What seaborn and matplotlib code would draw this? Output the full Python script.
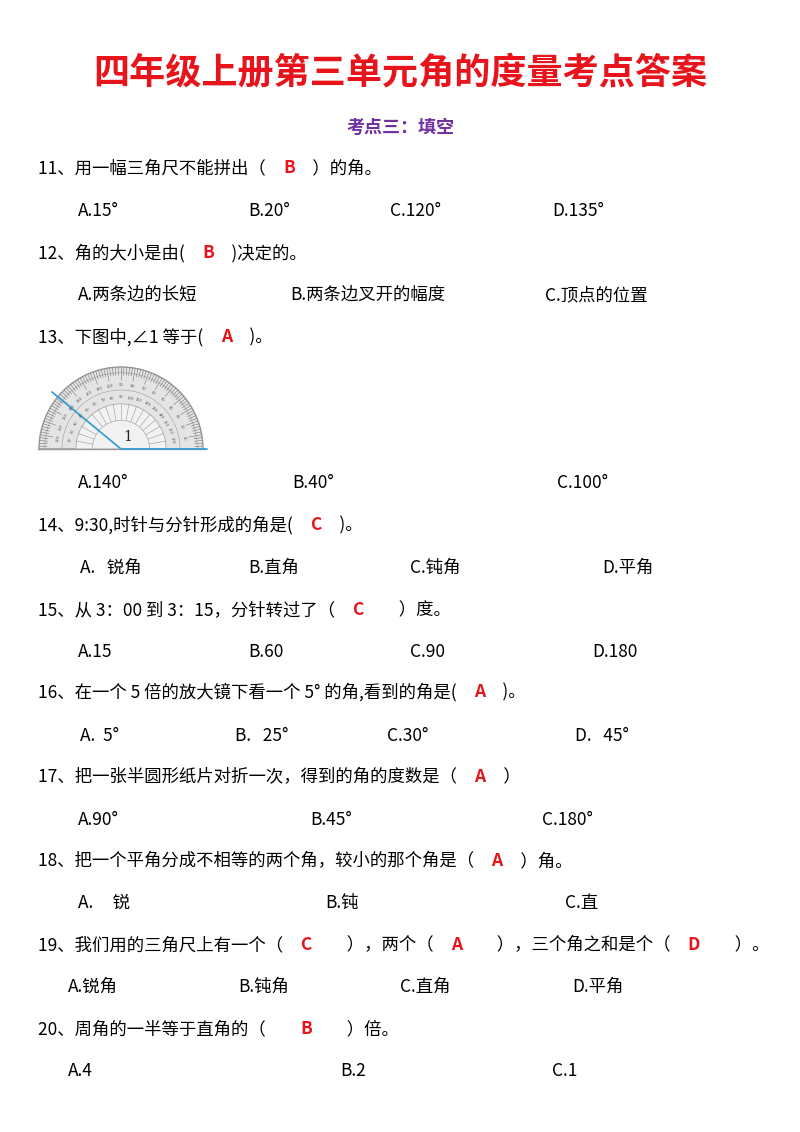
import numpy as np
import matplotlib
matplotlib.use("Agg")
import matplotlib.pyplot as plt
from matplotlib.patches import Wedge, Arc
import seaborn as sns

# ── Content ───────────────────────────────────────────────────────────────────
title = "四年级上册第三单元角的度量考点答案"
subtitle = "考点三：填空"

S = "\u3000"  # full-width space
# each question: list of (text, is_answer)
questions = [
    [("11、用一幅三角尺不能拼出（" + S, 0), ("B", 1), (S + "）的角。", 0)],
    [("12、角的大小是由(" + S, 0), ("B", 1), (S + ")决定的。", 0)],
    [("13、下图中,∠1 等于(" + S, 0), ("A", 1), (S + ")。", 0)],
    [("14、9:30,时针与分针形成的角是(" + S, 0), ("C", 1), (S + ")。", 0)],
    [("15、从 3：00 到 3：15，分针转过了（" + S, 0), ("C", 1), (S + S + "）度。", 0)],
    [("16、在一个 5 倍的放大镜下看一个 5° 的角,看到的角是(" + S, 0), ("A", 1), (S + ")。", 0)],
    [("17、把一张半圆形纸片对折一次，得到的角的度数是（" + S, 0), ("A", 1), (S + "）", 0)],
    [("18、把一个平角分成不相等的两个角，较小的那个角是（" + S, 0), ("A", 1), (S + "）角。", 0)],
    [("19、我们用的三角尺上有一个（" + S, 0), ("C", 1), (S + S + "），两个（" + S, 0), ("A", 1),
      (S + S + "），三个角之和是个（" + S, 0), ("D", 1), (S + S + "）。", 0)],
    [("20、周角的一半等于直角的（" + S + S, 0), ("B", 1), (S + S + "）倍。", 0)],
]

options = [
    ["A.15°", "B.20°", "C.120°", "D.135°"],
    ["A.两条边的长短", "B.两条边叉开的幅度", "C.顶点的位置"],
    ["A.140°", "B.40°", "C.100°"],
    ["A.   锐角", "B.直角", "C.钝角", "D.平角"],
    ["A.15", "B.60", "C.90", "D.180"],
    ["A.  5°", "B.   25°", "C.30°", "D.   45°"],
    ["A.90°", "B.45°", "C.180°"],
    ["A.     锐", "B.钝", "C.直"],
    ["A.锐角", "B.钝角", "C.直角", "D.平角"],
    ["A.4", "B.2", "C.1"],
]

# ── Layout (pixels) ───────────────────────────────────────────────────────────
option_x = [
    [78, 248, 390, 552],
    [78, 290, 545],
    [78, 292, 557],
    [80, 248, 410, 602],
    [78, 248, 410, 592],
    [80, 235, 387, 575],
    [78, 310, 542],
    [78, 325, 565],
    [68, 238, 400, 572],
    [68, 340, 552],
]
question_y = [168, 253, 337, 525, 610, 692, 777, 861, 945, 1029]
option_y = [211, 295, 483, 568, 652, 736, 820, 903, 987, 1071]

W, H = 800, 1132
sns.set_theme(style="white")
plt.rcParams["font.family"] = ["Noto Sans CJK SC", "DejaVu Sans"]

fig = plt.figure(figsize=(W / 100, H / 100), dpi=100)
ax = fig.add_axes([0, 0, 1, 1])
ax.set_xlim(0, W)
ax.set_ylim(H, 0)
ax.axis("off")

ax.text(W / 2, 73, title, color="#e8141c", fontsize=26, fontweight="bold",
        ha="center", va="center")
ax.text(W / 2, 127, subtitle, color="#7030a0", fontsize=13, fontweight="bold",
        ha="center", va="center")

fig.canvas.draw()
renderer = fig.canvas.get_renderer()
inv = ax.transData.inverted()

for segs, y in zip(questions, question_y):
    x = 38
    for txt, is_ans in segs:
        t = ax.text(x, y, txt, fontsize=12.5, va="center", ha="left",
                    color="#e8141c" if is_ans else "black",
                    fontweight="bold" if is_ans else "normal")
        bb = t.get_window_extent(renderer)
        x = inv.transform((bb.x1, bb.y0))[0]

for opts, xs, y in zip(options, option_x, option_y):
    for txt, x in zip(opts, xs):
        ax.text(x, y, txt, fontsize=12.5, va="center", ha="left", color="black")

# ── Protractor ────────────────────────────────────────────────────────────────
cx, cy, r = 121, 449, 82
ax.add_patch(Wedge((cx, cy), r, 180, 360, facecolor="#e4e4e4", edgecolor="#999999", lw=1))
ax.add_patch(Wedge((cx, cy), r * 0.55, 180, 360, facecolor="#f2f2f2", edgecolor="#aaaaaa", lw=0.6))
for rr in (0.93, 0.72, 0.35):
    ax.add_patch(Arc((cx, cy), 2 * r * rr, 2 * r * rr, theta1=180, theta2=360,
                     color="#aaaaaa", lw=0.5))
for deg in range(0, 181, 2):
    a = np.radians(deg)
    inner = 0.9 if deg % 10 else 0.84
    ax.plot([cx + r * inner * np.cos(a), cx + r * np.cos(a)],
            [cy - r * inner * np.sin(a), cy - r * np.sin(a)], color="#777777", lw=0.4)
for deg in range(10, 180, 10):
    a = np.radians(deg)
    ax.plot([cx + r * 0.35 * np.cos(a), cx + r * 0.55 * np.cos(a)],
            [cy - r * 0.35 * np.sin(a), cy - r * 0.55 * np.sin(a)], color="#999999", lw=0.4)
    ax.text(cx + r * 0.78 * np.cos(a), cy - r * 0.78 * np.sin(a), str(deg),
            fontsize=3, ha="center", va="center", color="#555555", rotation=deg - 90)
    ax.text(cx + r * 0.63 * np.cos(a), cy - r * 0.63 * np.sin(a), str(180 - deg),
            fontsize=3, ha="center", va="center", color="#555555", rotation=deg - 90)
ax.plot([38, 204], [cy, cy], color="#999999", lw=1)
ax.plot([cx, 52], [cy, 392], color="#3a9fd0", lw=1.3)
ax.plot([cx, 207], [cy, cy], color="#3a9fd0", lw=1.3)
ax.text(cx + 7, cy - 12, "1", fontsize=10, family="DejaVu Serif", ha="center", va="center")

fig.savefig("out.png", dpi=100)
